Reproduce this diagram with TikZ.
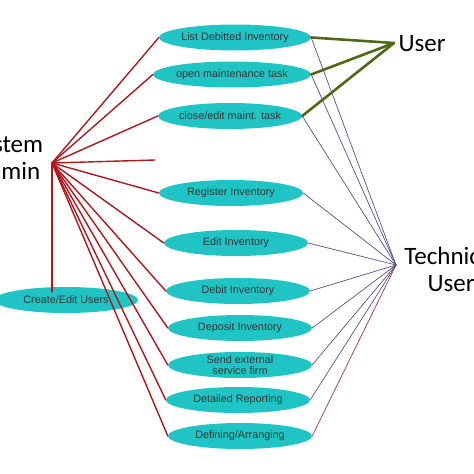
\documentclass[tikz,border=0pt]{standalone}
\usepackage{fontspec}
\setmainfont{Liberation Sans}
\newfontfamily\actorfont{Carlito}
\usetikzlibrary{shapes.geometric}

\definecolor{usecase}{RGB}{32,196,196}
\definecolor{adminred}{RGB}{176,24,30}
\definecolor{userolive}{RGB}{78,104,22}
\definecolor{techblue}{RGB}{88,78,140}
\definecolor{techbrown}{RGB}{150,60,70}

\begin{document}
\begin{tikzpicture}[x=1pt, y=-1pt, line join=round, line cap=round,
    uc/.style={ellipse, fill=usecase, minimum width=144pt, minimum height=26pt, inner sep=0pt,
        font=\fontsize{10.8}{12}\selectfont, text=black!80, align=center},
    actor/.style={font=\actorfont\fontsize{25}{27}\selectfont, align=center, inner sep=0pt},
    adminline/.style={adminred, line width=1.4pt},
    userline/.style={userolive, line width=2.6pt},
    techline/.style={techblue, line width=0.7pt}]

        \useasboundingbox (0,0) rectangle (474,474);

        % Use cases
        \node[uc] (ld) at (235,37.5) {List Debitted Inventory};
        \node[uc] (om) at (232,74.5) {open maintenance task};
        \node[uc] (ce) at (230,116) {close/edit maint. task};
        \node[uc] (ri) at (231,193) {Register Inventory};
        \node[uc] (ei) at (236,243) {Edit Inventory};
        \node[uc] (di) at (238,291) {Debit Inventory};
        \node[uc] (dp) at (240,328) {Deposit Inventory};
        \node[uc] (se) at (240,365) {Send external\\[-1.5pt]service firm};
        \node[uc] (dr) at (238,400) {Detailed Reporting};
        \node[uc] (da) at (240,436) {Defining/Arranging};
        \node[uc] (cu) at (66,300) {Create/Edit Users};

        % Actors
        \node[actor] (admin) at (7,158) {System\\Admin};
        \node[actor] (user) at (422,44) {User};
        \node[actor] (tech) at (451,269) {Technical\\User};

        \coordinate (sapt) at (52,163);
        \coordinate (upt) at (394,43);
        \coordinate (tupt) at (396,265);
        \coordinate (blank) at (155,160); % ligne vers rien

        % System admin lines
        \foreach \uc in {ld, om, ce, ri, ei, di, dp, se, dr, da} {
            \draw[adminline] (sapt) -- (\uc.west);
        }
        \draw[adminline] (sapt) -- (blank);
        \draw[adminline] (sapt) -- ([yshift=-5pt]sapt |- cu.north);

        % User lines
        \foreach \uc in {ld, om, ce} {
            \draw[userline] (upt) -- (\uc.east);
        }

        % Technical user lines
        \foreach \uc in {ld, om, ce, ri, ei, di, dp, se, dr} {
            \draw[techline] (tupt) -- (\uc.east);
        }
        \draw[techline, techbrown] (tupt) -- (da.east);

\end{tikzpicture}
\end{document}
